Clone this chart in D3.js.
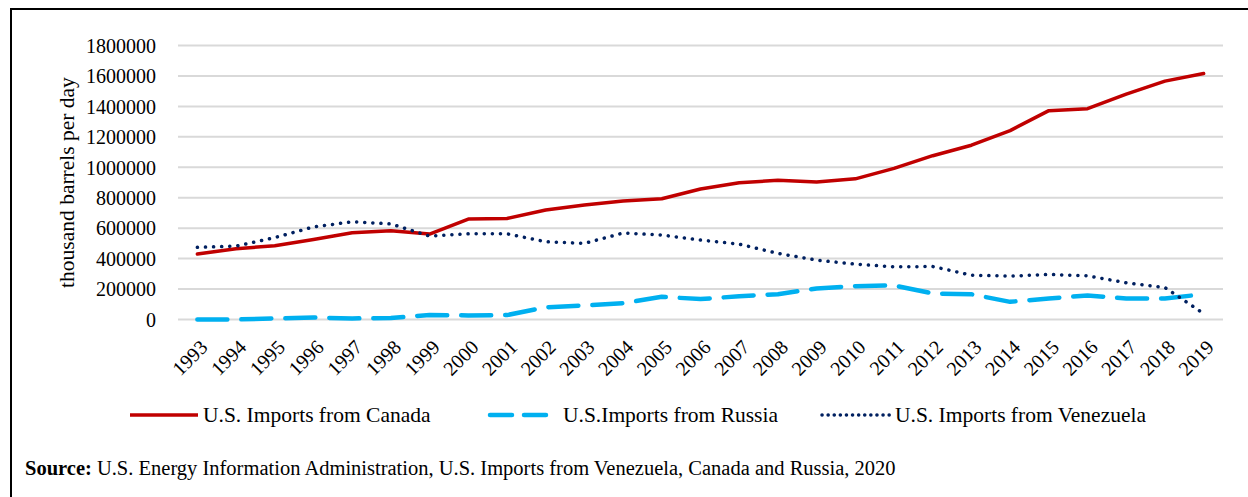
<!DOCTYPE html>
<html>
<head>
<meta charset="utf-8">
<script src="https://cdn.jsdelivr.net/npm/d3@7"></script>
<style>
  body { margin: 0; background: #fff; }
  svg, svg text { font-family: "Liberation Serif", "Times New Roman", serif; }
</style>
</head>
<body>
<script>
// data
let years = [1993, 1994, 1995, 1996, 1997, 1998, 1999, 2000, 2001, 2002, 2003, 2004, 2005,
    2006, 2007, 2008, 2009, 2010, 2011, 2012, 2013, 2014, 2015, 2016, 2017, 2018, 2019];

let canada = [430000, 465000, 485000, 525000, 570000, 583000, 561000, 660000, 664000, 719000,
    752000, 778000, 793000, 857000, 899000, 914000, 903000, 924000, 993000, 1076000, 1145000,
    1241000, 1372000, 1385000, 1480000, 1566000, 1616000];

let russia = [0, 0, 7000, 13000, 7000, 10000, 30000, 27000, 29000, 80000, 92000, 107000, 149000,
    134000, 153000, 166000, 204000, 219000, 224000, 171000, 166000, 116000, 138000, 158000,
    138000, 138000, 166000];

let venezuela = [474000, 482000, 538000, 608000, 642000, 628000, 548000, 563000, 563000, 511000,
    500000, 568000, 555000, 522000, 495000, 434000, 390000, 364000, 346000, 348000, 291000,
    285000, 296000, 287000, 241000, 210000, 39000];

let yTicks = [0, 200000, 400000, 600000, 800000, 1000000, 1200000, 1400000, 1600000, 1800000];

let seriesNames = ["U.S. Imports from Canada", "U.S.Imports from Russia", "U.S. Imports from Venezuela"];

let width = 1248;
let height = 497;
let marges = { top: 45.5, right: 25, bottom: 177.5, left: 178 };
let police = "'Liberation Serif', 'Times New Roman', serif";

let svg = d3.select("body").append("svg")
    .attr("width", width)
    .attr("height", height);

// cadre: seulement haut et gauche visibles
svg.append("rect")
    .attr("x", 11)
    .attr("y", 9)
    .attr("width", width + 20)
    .attr("height", height + 20)
    .attr("fill", "none")
    .attr("stroke", "#000")
    .attr("stroke-width", 2);

let x = d3.scalePoint()
    .domain(years)
    .range([marges.left, width - marges.right])
    .padding(0.5);

let y = d3.scaleLinear()
    .domain([0, 1800000])
    .range([height - marges.bottom, marges.top]);

// grille
svg.append("g")
    .selectAll("line")
    .data(yTicks)
    .enter()
    .append("line")
    .attr("x1", marges.left)
    .attr("x2", width - marges.right)
    .attr("y1", d => y(d))
    .attr("y2", d => y(d))
    .attr("stroke", "#d9d9d9")
    .attr("stroke-width", 2);

// axe Y
let axeY = svg.append("g")
    .attr("transform", "translate(" + (marges.left - 19) + ",0)")
    .call(d3.axisLeft(y).tickValues(yTicks).tickSize(0).tickFormat(d3.format("d")));
axeY.select(".domain").remove();
axeY.attr("font-family", null).attr("font-size", null);
axeY.selectAll("text")
    .style("font-family", police)
    .style("font-size", "20px")
    .attr("fill", "#000")
    .attr("dy", "0.34em");

// axe X
let axeX = svg.append("g")
    .attr("transform", "translate(0," + (height - marges.bottom) + ")")
    .call(d3.axisBottom(x).tickSize(0));
axeX.select(".domain").remove();
axeX.attr("font-family", null).attr("font-size", null);
axeX.selectAll("text")
    .style("font-family", police)
    .style("font-size", "20px")
    .attr("fill", "#000")
    .attr("text-anchor", "end")
    .attr("dy", 0)
    .attr("y", 0)
    .attr("transform", "translate(11,29) rotate(-45)");

// titre Y
svg.append("text")
    .attr("transform", "translate(74," + (y(900000)) + ") rotate(-90)")
    .attr("text-anchor", "middle")
    .style("font-family", police)
    .style("font-size", "21.5px")
    .text("thousand barrels per day");

let ligne = d3.line()
    .x((d, i) => x(years[i]))
    .y(d => y(d));

let styles = [
    { data: canada, color: "#c00000", w: 3.5, dash: null },
    { data: russia, color: "#00b0f0", w: 4.5, dash: "30 14" },
    { data: venezuela, color: "#002060", w: 3.5, dash: "0.1 8" }
];

styles.forEach(function(s) {
    svg.append("path")
        .datum(s.data)
        .attr("fill", "none")
        .attr("stroke", s.color)
        .attr("stroke-width", s.w)
        .attr("stroke-dasharray", s.dash)
        .attr("stroke-linecap", "round")
        .attr("stroke-linejoin", "round")
        .attr("d", ligne);
});

// legende
let legX = [130, 490, 822];
let legende = svg.append("g");
styles.forEach(function(s, i) {
    legende.append("line")
        .attr("x1", legX[i])
        .attr("x2", legX[i] + 68)
        .attr("y1", 415)
        .attr("y2", 415)
        .attr("stroke", s.color)
        .attr("stroke-width", s.w)
        .attr("stroke-dasharray", i === 1 ? "22 12" : (i === 2 ? "0.1 6" : null))
        .attr("stroke-linecap", i === 0 ? "butt" : "round");
    legende.append("text")
        .attr("x", legX[i] + 73)
        .attr("y", 422)
        .style("font-family", police)
        .style("font-size", "21.5px")
        .text(seriesNames[i]);
});

// source
let source = svg.append("text")
    .attr("x", 25)
    .attr("y", 475)
    .style("font-family", police)
    .style("font-size", "20.5px");
source.append("tspan").attr("font-weight", "bold").text("Source:");
source.append("tspan").text(" U.S. Energy Information Administration, U.S. Imports from Venezuela, Canada and Russia, 2020");
</script>
</body>
</html>
